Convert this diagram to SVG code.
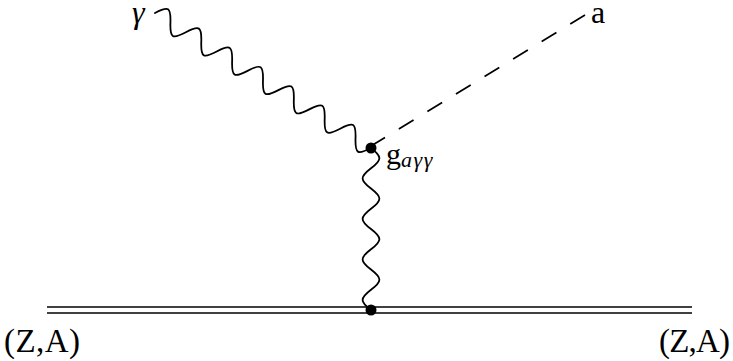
<svg xmlns="http://www.w3.org/2000/svg" width="733" height="361" viewBox="0 0 733 361">
<style>
.ln{fill:none;stroke:#000;stroke-width:1.8;stroke-linecap:round}
.dbl{fill:none;stroke:#000;stroke-width:1.6}
.dash{fill:none;stroke:#000;stroke-width:1.7;stroke-dasharray:17.3 16.2}
.lbl{font-family:"Liberation Serif","DejaVu Serif",serif;fill:#000}
.it{font-style:italic}
.dot{fill:#000}
</style>
<rect width="733" height="361" fill="#fff"/>
<g id="connectors">
<path id="photon-in" class="ln" transform="translate(155,13) rotate(32.005)" d="M0,0 c7.72,-13.33 10.47,-13.33 18.19,0 s10.47,13.33 18.19,0 s10.47,-13.33 18.19,0 s10.47,13.33 18.19,0 s10.47,-13.33 18.19,0 s10.47,13.33 18.19,0 s10.47,-13.33 18.19,0 s10.47,13.33 18.19,0 s10.47,-13.33 18.19,0 s10.47,13.33 18.19,0 s10.47,-13.33 18.19,0 s10.47,13.33 18.19,0 s10.47,-13.33 18.19,0 s10.47,13.33 18.19,0"/>
<path id="axion" class="dash" d="M585,15 L371,146"/>
<path id="photon-virtual" class="ln" transform="translate(371,148) rotate(90)" d="M0,0 c8.59,-11.2 11.66,-11.2 20.25,0 s11.66,11.2 20.25,0 s11.66,-11.2 20.25,0 s11.66,11.2 20.25,0 s11.66,-11.2 20.25,0 s11.66,11.2 20.25,0 s11.66,-11.2 20.25,0 s11.66,11.2 20.25,0"/>
<g id="nucleus-line">
<line class="dbl" x1="47" y1="307" x2="692" y2="307"/>
<line class="dbl" x1="47" y1="313" x2="692" y2="313"/>
</g>
</g>
<g id="vertex-top">
<circle class="dot" cx="371" cy="148" r="5.5"/>
<text class="lbl" x="386" y="164" font-size="30">g<tspan class="it" font-size="22" dy="3" letter-spacing="1.5">aγγ</tspan></text>
</g>
<g id="vertex-bottom">
<circle class="dot" cx="371" cy="310" r="5.5"/>
</g>
<g id="label-gamma">
<text class="lbl it" x="132" y="23" font-size="32">γ</text>
</g>
<g id="label-a">
<text class="lbl" x="591" y="23" font-size="32">a</text>
</g>
<g id="label-ZA-left">
<text class="lbl" x="4" y="352" font-size="33" textLength="76" lengthAdjust="spacing">(Z,A)</text>
</g>
<g id="label-ZA-right">
<text class="lbl" x="659" y="352" font-size="33" textLength="71" lengthAdjust="spacing">(Z,A)</text>
</g>
</svg>
